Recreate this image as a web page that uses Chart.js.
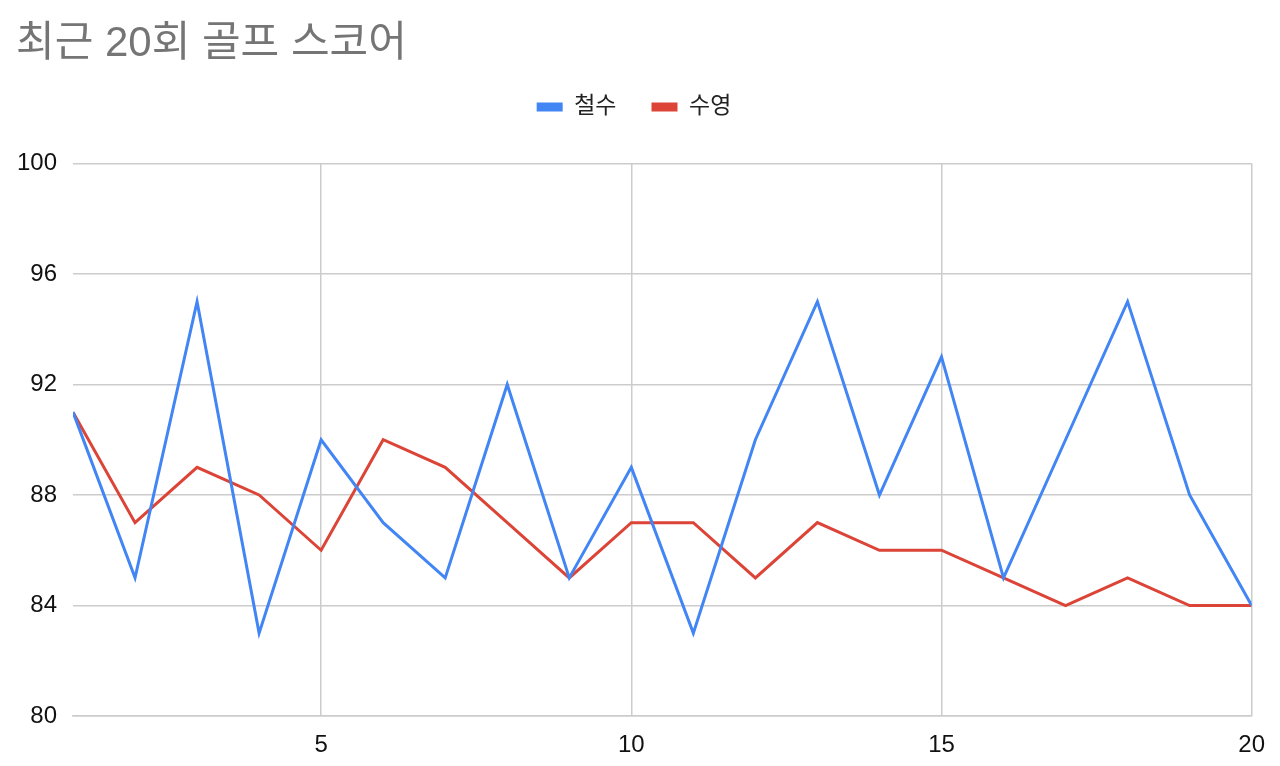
<!DOCTYPE html>
<html>
<head>
<meta charset="utf-8">
<script src="https://cdn.jsdelivr.net/npm/chart.js@4"></script>
<style>
  html, body { margin: 0; padding: 0; background: #fff; }
  #wrap { width: 1280px; height: 766px; }
</style>
</head>
<body>
<div id="wrap"><canvas id="chart" width="1280" height="766"></canvas></div>
<script>
// 회차 (1~20)
const rounds = [1, 2, 3, 4, 5, 6, 7, 8, 9, 10, 11, 12, 13, 14, 15, 16, 17, 18, 19, 20];
// 철수 점수
const cheolsu = [91, 85, 95, 83, 90, 87, 85, 92, 85, 89, 83, 90, 95, 88, 93, 85, 90, 95, 88, 84];
// 수영 점수
const suyoung = [91, 87, 89, 88, 86, 90, 89, 87, 85, 87, 87, 85, 87, 86, 86, 85, 84, 85, 84, 84];
// 축 눈금
const xTicks = [5, 10, 15, 20];
const yTicks = [80, 84, 88, 92, 96, 100];

const FONT = "'Liberation Sans', Arial, 'Noto Sans CJK KR', sans-serif";

function toPoints(vals) {
    return rounds.map((r, i) => ({ x: r, y: vals[i] }));
}

const ctx = document.getElementById('chart').getContext('2d');
new Chart(ctx, {
    type: 'line',
    data: {
        datasets: [
            {
                label: '철수',
                data: toPoints(cheolsu),
                borderColor: '#4285F4',
                backgroundColor: '#4285F4',
                borderWidth: 3,
                pointRadius: 0,
                tension: 0
            },
            {
                label: '수영',
                data: toPoints(suyoung),
                borderColor: '#DB4437',
                backgroundColor: '#DB4437',
                borderWidth: 3,
                pointRadius: 0,
                tension: 0
            }
        ]
    },
    options: {
        responsive: false,
        animation: false,
        layout: { padding: { left: 16, right: 28, top: 0, bottom: 0 } },
        plugins: {
            title: {
                display: true,
                text: '최근 20회 골프 스코어',
                align: 'start',
                color: '#757575',
                font: { family: FONT, size: 42, weight: 'normal', lineHeight: 0.75 },
                padding: { top: 29, bottom: 0 }
            },
            // 범례 아래 여백용 (빈 부제목)
            subtitle: {
                display: true,
                text: ' ',
                weight: 500,
                font: { size: 10, lineHeight: 1 },
                padding: { top: 25, bottom: 0 }
            },
            legend: {
                display: true,
                labels: {
                    boxWidth: 26,
                    boxHeight: 9,
                    color: '#222',
                    padding: 35,
                    font: { family: FONT, size: 23 },
                    generateLabels: chart => Chart.defaults.plugins.legend.labels.generateLabels(chart)
                        .map(l => ({ ...l, lineWidth: 0 }))
                }
            },
            tooltip: { enabled: false }
        },
        scales: {
            x: {
                type: 'linear',
                min: 1,
                max: 20,
                afterBuildTicks: axis => { axis.ticks = xTicks.map(v => ({ value: v })); },
                afterFit: axis => { axis.height = 50; },
                grid: { color: '#cccccc', lineWidth: 1.5, drawTicks: false },
                border: { color: '#cccccc', width: 1.5 },
                ticks: {
                    color: '#111',
                    padding: 15,
                    font: { family: FONT, size: 24 }
                }
            },
            y: {
                min: 80,
                max: 100,
                afterBuildTicks: axis => { axis.ticks = yTicks.map(v => ({ value: v })); },
                afterFit: axis => { axis.width = 57; },
                grid: { color: '#cccccc', lineWidth: 1.5, drawTicks: false },
                border: { display: false },
                ticks: {
                    color: '#111',
                    padding: 16,
                    font: { family: FONT, size: 24 }
                }
            }
        }
    }
});
</script>
</body>
</html>
